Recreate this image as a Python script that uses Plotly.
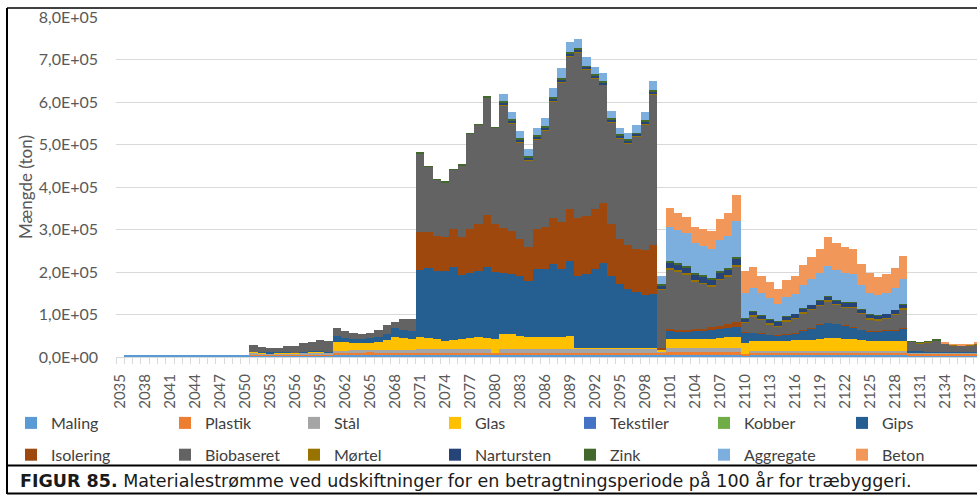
import plotly.graph_objects as go

# Years on the category axis (2035 .. 2138)
years = list(range(2035, 2139))
tick_years = years[::3]

# Material flows per year (ton). Row layout:
# 2035 | 2036-2050 | 2051-2060 | 2061-2070 | 2071-2099 | 2100 | 2101-2109 | 2110-2129 | 2130-2138
maling = [
    0,
    4000, 4000, 4000, 4000, 4000, 4000, 4000, 4000, 4000, 4000, 4000, 4000, 4000, 4000, 4000,
    4000, 4000, 4000, 4000, 4000, 4000, 4000, 4000, 4000, 4000,
    4000, 4000, 4000, 4000, 4000, 4000, 4000, 4000, 4000, 4000,
    4000, 4000, 4000, 4000, 4000, 4000, 4000, 4000, 4000, 4000, 4000, 4000, 4000, 4000, 4000,
    4000, 4000, 4000, 4000, 4000, 4000, 4000, 4000, 4000, 4000, 4000, 4000, 4000, 4000,
    4000,
    4000, 4000, 4000, 4000, 4000, 4000, 4000, 4000, 4000,
    4000, 4000, 4000, 4000, 4000, 4000, 4000, 4000, 4000, 4000, 4000, 4000, 4000, 4000, 4000, 4000, 4000, 4000, 4000, 4000,
    4000, 4000, 4000, 4000, 4000, 4000, 4000, 4000, 4000,
]
plastik = [
    0,
    0, 0, 0, 0, 0, 0, 0, 0, 0, 0, 0, 0, 0, 0, 0,
    3000, 2500, 2000, 2500, 3000, 3000, 3000, 3000, 3000, 3000,
    5000, 5000, 5500, 6500, 7000, 5500, 5500, 6000, 6000, 6000,
    6000, 6000, 6000, 6000, 6000, 6000, 6000, 6000, 6000, 6000, 6000, 6000, 6000, 6000, 6000,
    6000, 6000, 6000, 6000, 6000, 6000, 6000, 6000, 6000, 6000, 6000, 6000, 6000, 6000,
    5000,
    7000, 7000, 7000, 7000, 7000, 7000, 7000, 7000, 7000,
    3000, 6000, 6000, 6000, 6000, 6000, 6000, 6000, 6000, 6000, 6000, 6000, 6000, 6000, 6000, 6000, 6000, 6000, 6000, 6000,
    4000, 4000, 4000, 4000, 4000, 4000, 4000, 4000, 4000,
]
staal = [
    0,
    0, 0, 0, 0, 0, 0, 0, 0, 0, 0, 0, 0, 0, 0, 0,
    2500, 2000, 1500, 2000, 2000, 2000, 2500, 3000, 3000, 2500,
    6000, 6000, 6000, 5000, 5000, 6000, 7000, 7000, 7500, 7500,
    8500, 8500, 8500, 8500, 8500, 8500, 8500, 8500, 8500, 500, 8500, 8500, 8500, 8500, 8500,
    8500, 8500, 8500, 8500, 9000, 9000, 9000, 9000, 9000, 9000, 9000, 9000, 9000, 9000,
    5000,
    10000, 10000, 10000, 10000, 10000, 10000, 10000, 10000, 10000,
    0, 5000, 5000, 5000, 5000, 5000, 5000, 5000, 5000, 5000, 5000, 5000, 5000, 5000, 5000, 5000, 5000, 5000, 5000, 5000,
    3000, 3000, 3000, 3000, 3000, 3000, 3000, 3000, 3000,
]
glas = [
    0,
    0, 0, 0, 0, 0, 0, 0, 0, 0, 0, 0, 0, 0, 0, 0,
    2000, 1000, 1000, 2000, 1500, 1000, 1500, 3000, 3000, 1500,
    19600, 19600, 16700, 16700, 17700, 20500, 23500, 29300, 26500, 25500,
    27800, 26200, 23100, 19900, 21500, 23100, 26200, 29300, 26200, 31100, 35600, 35600, 30900, 29300, 27800,
    29300, 29300, 29300, 31500, 2500, 2500, 2500, 2500, 2500, 2500, 2500, 2500, 2500, 2500,
    2000,
    21000, 21000, 21000, 21000, 21000, 22000, 24000, 25000, 26000,
    26700, 22600, 22600, 21500, 21500, 23000, 24000, 25000, 26000, 28000, 29000, 29000, 28000, 27000, 25000, 23000, 22600, 22600, 22600, 23000,
    500, 500, 500, 500, 500, 500, 500, 500, 500,
]
tekstiler = [
    0,
    0, 0, 0, 0, 0, 0, 0, 0, 0, 0, 0, 0, 0, 0, 0,
    0, 0, 0, 0, 0, 0, 0, 0, 0, 0,
    0, 0, 0, 0, 0, 0, 0, 0, 0, 0,
    0, 0, 0, 0, 0, 0, 0, 0, 0, 0, 0, 0, 0, 0, 0,
    0, 0, 0, 0, 0, 0, 0, 0, 0, 0, 0, 0, 0, 0,
    0,
    0, 0, 0, 0, 0, 0, 0, 0, 0,
    0, 0, 0, 0, 0, 0, 0, 0, 0, 0, 0, 0, 0, 0, 0, 0, 0, 0, 0, 0,
    0, 0, 0, 0, 0, 0, 0, 0, 0,
]
kobber = [
    0,
    0, 0, 0, 0, 0, 0, 0, 0, 0, 0, 0, 0, 0, 0, 0,
    0, 0, 0, 0, 0, 0, 0, 0, 0, 0,
    0, 0, 0, 0, 0, 0, 0, 0, 0, 0,
    0, 0, 0, 0, 0, 0, 0, 0, 0, 0, 0, 0, 0, 0, 0,
    0, 0, 0, 0, 0, 0, 0, 0, 0, 0, 0, 0, 0, 0,
    0,
    0, 0, 0, 0, 0, 0, 0, 0, 0,
    0, 0, 0, 0, 0, 0, 0, 0, 0, 0, 0, 0, 0, 0, 0, 0, 0, 0, 0, 0,
    0, 0, 0, 0, 0, 0, 0, 0, 0,
]
gips = [
    0,
    0, 0, 0, 0, 0, 0, 0, 0, 0, 0, 0, 0, 0, 0, 0,
    0, 3000, 3500, 1500, 500, 500, 500, 500, 500, 500,
    14800, 10800, 10200, 9400, 11700, 11800, 14100, 21100, 19500, 18900,
    158400, 164700, 161500, 164700, 171000, 151400, 152200, 153800, 166300, 158400, 142800, 141200, 141200, 131800, 161500,
    160000, 171000, 158400, 176600, 169900, 173000, 186300, 198900, 169100, 150300, 137800, 131500, 124500, 126100,
    0,
    20000, 19000, 19000, 20000, 20000, 21000, 21000, 23000, 24000,
    23300, 19400, 17400, 15500, 14500, 16000, 17000, 22000, 27000, 33000, 36000, 34000, 31000, 28000, 24000, 22000, 22400, 24400, 25400, 30000,
    3000, 3000, 1000, 1000, 1000, 1000, 1000, 1000, 1000,
]
isolering = [
    0,
    0, 0, 0, 0, 0, 0, 0, 0, 0, 0, 0, 0, 0, 0, 0,
    0, 0, 0, 0, 0, 0, 0, 0, 0, 0,
    0, 0, 0, 0, 0, 0, 0, 0, 0, 0,
    90200, 85500, 81600, 78500, 89400, 88600, 104300, 110600, 122300, 112200, 105800, 101200, 87800, 80000, 93400,
    98900, 107500, 110700, 121700, 136500, 137300, 139700, 141200, 122400, 106600, 103400, 100300, 105700, 115100,
    6000,
    3000, 3000, 3000, 5000, 5000, 6000, 7000, 9000, 11000,
    2000, 500, 500, 500, 500, 500, 500, 500, 500, 500, 500, 500, 500, 500, 500, 500, 500, 500, 500, 500,
    0, 0, 0, 0, 0, 0, 0, 0, 0,
]
biobaseret = [
    0,
    0, 0, 0, 0, 0, 0, 0, 0, 0, 0, 0, 0, 0, 0, 0,
    16000, 11000, 9000, 9000, 14000, 16200, 21500, 21000, 25500, 25500,
    18600, 16600, 14100, 12400, 11600, 15700, 20400, 14600, 26500, 28100,
    184800, 153100, 132300, 129400, 140200, 169900, 223800, 234300, 278300, 227300, 289800, 253800, 226900, 203300, 211300,
    227400, 275200, 329600, 359200, 388600, 343700, 308000, 278400, 239300, 235700, 239600, 265100, 296000, 355800,
    137000,
    141300, 136800, 130500, 110300, 104800, 95500, 108200, 111000, 132100,
    21000, 38200, 32300, 25100, 20600, 29400, 33700, 41000, 42900, 45000, 50500, 44600, 42300, 46300, 36700, 28900, 25800, 27700, 36100, 44400,
    22100, 18200, 22600, 26100, 18700, 15600, 14000, 15600, 18000,
]
moertel = [
    0,
    0, 0, 0, 0, 0, 0, 0, 0, 0, 0, 0, 0, 0, 0, 0,
    0, 0, 0, 0, 0, 0, 0, 0, 0, 0,
    0, 0, 0, 0, 0, 0, 0, 0, 0, 0,
    0, 0, 0, 0, 0, 0, 0, 0, 0, 0, 1000, 1000, 1000, 1000, 1000,
    1000, 1000, 1000, 1000, 1000, 1000, 1000, 1000, 1000, 1000, 1000, 1000, 1000, 1000,
    1000,
    3500, 3500, 3500, 3500, 3500, 3500, 3500, 3500, 3500,
    2000, 2000, 2000, 2000, 2000, 2000, 2000, 2000, 2000, 2000, 2000, 2000, 2000, 2000, 2000, 2000, 2000, 2000, 2000, 2000,
    500, 500, 500, 500, 500, 500, 500, 500, 500,
]
nartursten = [
    0,
    0, 0, 0, 0, 0, 0, 0, 0, 0, 0, 0, 0, 0, 0, 0,
    0, 0, 0, 0, 0, 0, 0, 0, 0, 0,
    0, 0, 0, 0, 0, 0, 0, 0, 0, 0,
    0, 0, 0, 0, 0, 0, 0, 0, 0, 0, 6000, 6000, 6000, 6000, 6000,
    6000, 6000, 6000, 6000, 6000, 6000, 6000, 6000, 6000, 6000, 6000, 6000, 6000, 6000,
    8000,
    13000, 13000, 13000, 13000, 13000, 13000, 13000, 13000, 13000,
    9000, 9000, 9000, 9000, 9000, 9000, 9000, 9000, 9000, 9000, 9000, 9000, 9000, 9000, 9000, 9000, 9000, 9000, 9000, 9000,
    0, 0, 0, 0, 0, 0, 0, 0, 0,
]
zink = [
    0,
    0, 0, 0, 0, 0, 0, 0, 0, 0, 0, 0, 0, 0, 0, 0,
    0, 0, 0, 0, 0, 0, 0, 0, 0, 0,
    0, 0, 0, 0, 0, 0, 0, 0, 0, 0,
    1000, 1000, 1000, 1000, 1000, 1000, 1000, 1000, 1000, 1000, 2500, 2500, 2500, 2500, 2500,
    2500, 2500, 2500, 2500, 2500, 2500, 2500, 2500, 2500, 2500, 2500, 2500, 2500, 2500,
    3000,
    4000, 4000, 4000, 4000, 4000, 4000, 4000, 4000, 4000,
    500, 500, 500, 500, 500, 500, 500, 500, 500, 500, 500, 500, 500, 500, 500, 500, 500, 500, 500, 500,
    500, 500, 500, 2500, 500, 500, 500, 500, 500,
]
aggregate = [
    0,
    0, 0, 0, 0, 0, 0, 0, 0, 0, 0, 0, 0, 0, 0, 0,
    0, 0, 0, 0, 0, 0, 0, 0, 0, 0,
    0, 0, 0, 0, 0, 0, 0, 0, 0, 0,
    0, 0, 0, 0, 0, 0, 0, 0, 0, 0, 16000, 16000, 17000, 17000, 18000,
    18000, 21000, 23000, 25000, 22000, 20000, 18000, 18000, 17000, 16000, 16000, 18000, 20000, 22000,
    20000,
    78300, 77500, 76000, 69700, 68900, 68100, 73600, 75900, 86100,
    58300, 54300, 50500, 48900, 40300, 45000, 46500, 54400, 59900, 63900, 72400, 70100, 68600, 66200, 56700, 50500, 48100, 48100, 50400, 58400,
    0, 0, 0, 0, 0, 0, 0, 0, 0,
]
beton = [
    0,
    0, 0, 0, 0, 0, 0, 0, 0, 0, 0, 0, 0, 0, 0, 0,
    0, 0, 0, 0, 0, 0, 0, 0, 0, 0,
    0, 0, 0, 0, 0, 0, 0, 0, 0, 0,
    0, 0, 0, 0, 0, 0, 0, 0, 0, 0, 0, 0, 0, 0, 0,
    0, 0, 0, 0, 0, 0, 0, 0, 0, 0, 0, 0, 0, 0,
    0,
    44700, 39200, 39000, 39200, 40000, 43200, 49400, 52600, 60500,
    53400, 49500, 41600, 37700, 36100, 40800, 43200, 47100, 51700, 57200, 66700, 62800, 61200, 59600, 49400, 45500, 43100, 45500, 47100, 55600,
    0, 0, 0, 0, 1500, 1500, 1500, 1500, 1500,
]

series = [
    ("Maling", maling, "#5B9BD5"),
    ("Plastik", plastik, "#ED7D31"),
    ("Stål", staal, "#A5A5A5"),
    ("Glas", glas, "#FFC000"),
    ("Tekstiler", tekstiler, "#4472C4"),
    ("Kobber", kobber, "#70AD47"),
    ("Gips", gips, "#255E91"),
    ("Isolering", isolering, "#9E480E"),
    ("Biobaseret", biobaseret, "#636363"),
    ("Mørtel", moertel, "#997300"),
    ("Nartursten", nartursten, "#264478"),
    ("Zink", zink, "#43682B"),
    ("Aggregate", aggregate, "#7CAFDD"),
    ("Beton", beton, "#F1975A"),
]

y_ticks = [0, 100000, 200000, 300000, 400000, 500000, 600000, 700000, 800000]
y_ticktext = ["0,0E+00", "1,0E+05", "2,0E+05", "3,0E+05", "4,0E+05",
              "5,0E+05", "6,0E+05", "7,0E+05", "8,0E+05"]

# Page and plot-area geometry in pixels
W, H = 977, 495
ML, MR, MT, MB = 116, 0, 17, 138
PW, PH = W - ML - MR, H - MT - MB
SLOT = 8.33  # width of one year slot


def px_x(px):
    return (px - ML) / PW


def px_y(py):
    return (H - MB - py) / PH


TEXT = "#595959"
LEGEND_TEXT = "#404040"
FONT = "Lato"

fig = go.Figure()
legend_keys = ["legend"] + [f"legend{i}" for i in range(2, 8)]
for i, (name, vals, color) in enumerate(series):
    fig.add_trace(go.Bar(
        x=years, y=vals, name=name,
        marker=dict(color=color, line=dict(width=0)),
        legend=legend_keys[i % 7], legendgroup=name,
    ))

# One legend per column, two entries each
legend_text_x = [51, 205, 334, 475, 610, 744, 882]
legends = {}
for key, tx in zip(legend_keys, legend_text_x):
    legends[key] = dict(
        x=px_x(tx - 40), xanchor="left", y=px_y(406), yanchor="top",
        orientation="v", traceorder="grouped", tracegroupgap=8,
        font=dict(family=FONT, size=16, color=LEGEND_TEXT),
        bgcolor="rgba(0,0,0,0)", itemwidth=30,
    )

frame = dict(color="black", width=2)
shapes = [
    dict(type="line", xref="paper", yref="paper", x0=px_x(7), x1=px_x(7),
         y0=px_y(8), y1=px_y(494), line=frame),
    dict(type="line", xref="paper", yref="paper", x0=px_x(7), x1=px_x(977),
         y0=px_y(8), y1=px_y(8), line=dict(color="black", width=1.5)),
    dict(type="line", xref="paper", yref="paper", x0=px_x(7), x1=px_x(977),
         y0=px_y(465.5), y1=px_y(465.5), line=frame),
    dict(type="line", xref="paper", yref="paper", x0=px_x(7), x1=px_x(977),
         y0=px_y(493.5), y1=px_y(493.5), line=frame),
]

fig.update_layout(
    width=W, height=H,
    margin=dict(l=ML, r=MR, t=MT, b=MB, pad=0),
    paper_bgcolor="white", plot_bgcolor="white",
    barmode="stack", bargap=0,
    font=dict(family=FONT, size=15, color=TEXT),
    xaxis=dict(
        type="linear", range=[years[0] - 0.5, years[0] - 0.5 + PW / SLOT],
        tickmode="array", tickvals=tick_years, ticktext=[str(y) for y in tick_years],
        tickangle=-90, ticks="", showgrid=False, zeroline=False,
        showline=True, linecolor="#D9D9D9", linewidth=1,
        tickfont=dict(family=FONT, size=15, color=TEXT),
        ticklabelstandoff=10, ticklabeloverflow="allow",
        minor=dict(ticks="outside", tick0=years[0] - 0.5, dtick=1, ticklen=6,
                   tickcolor="#D9D9D9", tickwidth=1, showgrid=False),
    ),
    yaxis=dict(
        range=[0, 800000], tickmode="array", tickvals=y_ticks, ticktext=y_ticktext,
        showgrid=True, gridcolor="#D9D9D9", gridwidth=1, zeroline=False,
        showline=False, ticks="",
        tickfont=dict(family=FONT, size=16, color=TEXT),
        ticklabelstandoff=17,
        title=dict(text="Mængde (ton)", font=dict(family=FONT, size=17, color=TEXT), standoff=1),
    ),
    shapes=shapes,
    annotations=[dict(
        xref="paper", yref="paper", x=px_x(18), y=px_y(481),
        xanchor="left", yanchor="middle", showarrow=False,
        text="<b>FIGUR 85.</b> Materialestrømme ved udskiftninger for en betragtningsperiode på 100 år for træbyggeri.",
        font=dict(family="DejaVu Sans", size=17.5, color="#1a1a1a"),
    )],
    **legends,
)

fig.write_html("out.html")
